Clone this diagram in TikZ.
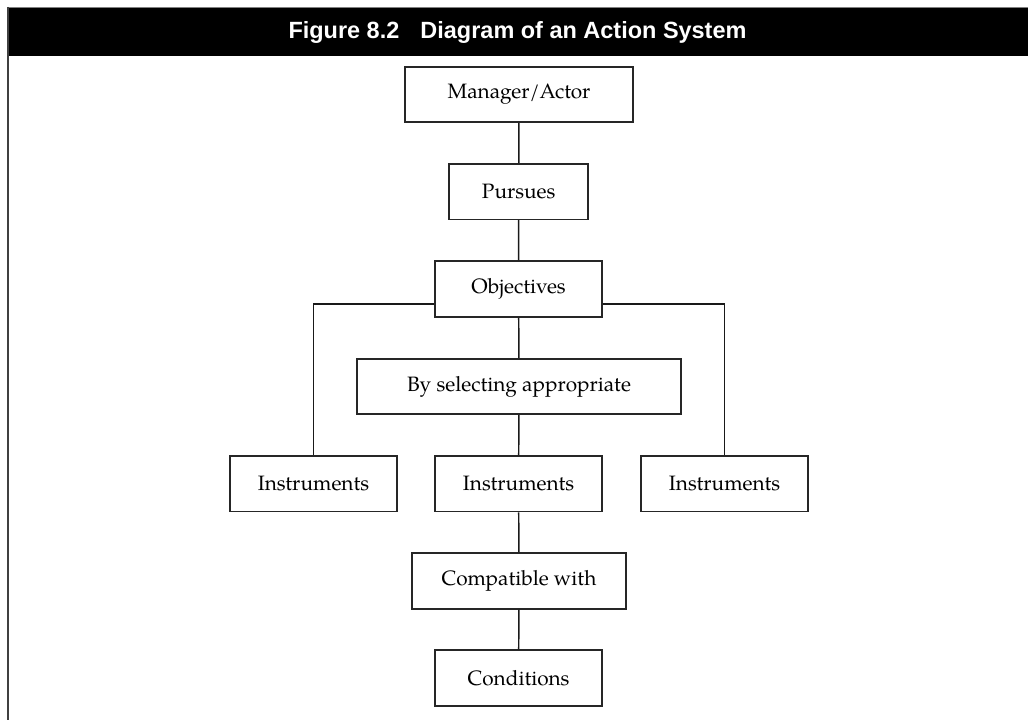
\documentclass[tikz,border=0pt]{standalone}
\usepackage{fontspec}
\setmainfont{texgyrepagella}[Extension=.otf,UprightFont=*-regular,BoldFont=*-bold,ItalicFont=*-italic,BoldItalicFont=*-bolditalic]
\newfontfamily\titlefont{Liberation Sans}
\begin{document}
\begin{tikzpicture}[x=0.75pt,y=-0.75pt,
  stepbox/.style={draw=black!85,line width=1.2pt,inner sep=0pt,
    minimum height=41.6pt,font=\fontsize{15.6}{18}\selectfont},
  link/.style={draw=black!90,line width=1.1pt}]
\useasboundingbox (0,0) rectangle (1028,720);

% title bar and frame
\fill[black] (7,7) rectangle (1028,56.5);
\draw[gray,line width=0.8pt] (7,7.3) -- (1028,7.3);
\draw[black!75,line width=1.5pt] (8,7) -- (8,720);
\node[text=white,font=\titlefont\bfseries\fontsize{17.6}{20}\selectfont] (title) at (517.5,32)
  {Figure 8.2\hspace{0.9em}Diagram of an Action System};

% boxes
\node[stepbox,minimum width=171pt]   (man)  at (519,94.5)  {Manager/Actor};
\node[stepbox,minimum width=104.3pt] (pur)  at (518.7,191.7) {Pursues};
\node[stepbox,minimum width=125.3pt] (obj)  at (518.6,289)   {Objectives};
\node[stepbox,minimum width=243pt]   (sel)  at (519,386.5)   {By selecting appropriate};
\node[stepbox,minimum width=125.3pt] (insL) at (313.5,483.8) {Instruments};
\node[stepbox,minimum width=125.3pt] (insM) at (518.6,483.8) {Instruments};
\node[stepbox,minimum width=125.3pt] (insR) at (724.6,483.8) {Instruments};
\node[stepbox,minimum width=160.5pt] (comp) at (519,581)     {Compatible with};
\node[stepbox,minimum width=125.3pt] (cond) at (518.6,678)   {Conditions};

% connectors
\draw[link] (man) -- (pur);
\draw[link] (pur) -- (obj);
\draw[link] (obj) -- (sel);
\draw[link] (sel) -- (insM);
\draw[link] (insM) -- (comp);
\draw[link] (comp) -- (cond);
\draw[link] ([yshift=-11.25pt]obj.west) -| (insL.north);
\draw[link] ([yshift=-11.25pt]obj.east) -| (insR.north);
\end{tikzpicture}
\end{document}
